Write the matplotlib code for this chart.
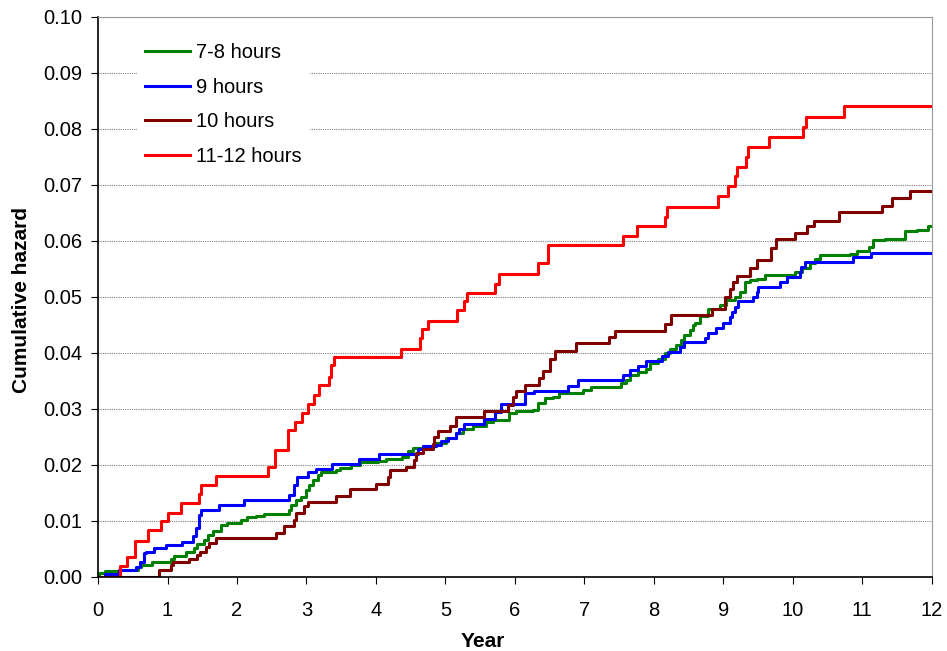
import matplotlib.pyplot as plt

plt.rcParams['font.family'] = ['Liberation Sans', 'DejaVu Sans']

# step times (years) and cumulative hazard after each step
t_78 = [0, 0.02, 0.10, 0.30, 0.57, 0.62, 0.78, 1.05, 1.10, 1.26, 1.38, 1.42, 1.53, 1.58, 1.65, 1.77,
        1.86, 2.06, 2.15, 2.27, 2.39, 2.61, 2.75, 2.78, 2.85, 2.92, 2.99, 3.04, 3.09, 3.16, 3.21,
        3.42, 3.48, 3.64, 3.77, 4.03, 4.14, 4.38, 4.46, 4.53, 4.67, 4.87, 5.01, 5.15, 5.25, 5.39,
        5.59, 5.68, 5.92, 6.02, 6.26, 6.33, 6.43, 6.55, 6.64, 6.98, 7.10, 7.53, 7.60, 7.65, 7.77,
        7.89, 7.94, 8.06, 8.16, 8.23, 8.32, 8.39, 8.44, 8.52, 8.56, 8.59, 8.67, 8.78, 8.95, 9.04,
        9.16, 9.24, 9.31, 9.38, 9.48, 9.60, 10.03, 10.13, 10.24, 10.32, 10.39, 10.82, 10.92,
        11.09, 11.16, 11.33, 11.62, 11.78, 11.95]
v_78 = [0, 0.0007, 0.0011, 0.0012, 0.0017, 0.0021, 0.0027, 0.0033, 0.0037, 0.0045, 0.0051, 0.0059,
        0.0066, 0.0075, 0.0083, 0.0093, 0.0097, 0.0101, 0.0107, 0.0109, 0.0112, 0.0113, 0.0120,
        0.0129, 0.0137, 0.0143, 0.0155, 0.0164, 0.0173, 0.0182, 0.0187, 0.0191, 0.0195, 0.0200,
        0.0205, 0.0208, 0.0211, 0.0215, 0.0225, 0.0231, 0.0234, 0.0239, 0.0248, 0.0257, 0.0264,
        0.0270, 0.0276, 0.0280, 0.0292, 0.0297, 0.0299, 0.0310, 0.0319, 0.0322, 0.0329, 0.0334,
        0.0340, 0.0346, 0.0351, 0.0361, 0.0366, 0.0372, 0.0382, 0.0389, 0.0400, 0.0408, 0.0414,
        0.0423, 0.0432, 0.0441, 0.0450, 0.0454, 0.0466, 0.0478, 0.0486, 0.0495, 0.0500, 0.0509,
        0.0526, 0.0530, 0.0533, 0.0539, 0.0545, 0.0551, 0.0560, 0.0567, 0.0575, 0.0577, 0.0582,
        0.0590, 0.0601, 0.0604, 0.0617, 0.0619, 0.0626]

t_9 = [0, 0.10, 0.30, 0.54, 0.61, 0.66, 0.69, 0.81, 0.98, 1.21, 1.36, 1.41, 1.46, 1.48, 1.74, 2.10,
       2.75, 2.82, 2.87, 3.02, 3.14, 3.37, 3.76, 4.05, 4.60, 4.67, 4.87, 4.94, 5.03, 5.15, 5.20,
       5.27, 5.56, 5.71, 5.80, 6.14, 6.28, 6.76, 6.91, 7.55, 7.65, 7.77, 7.89, 8.11, 8.21, 8.38,
       8.44, 8.73, 8.78, 8.90, 9.00, 9.09, 9.12, 9.16, 9.21, 9.43, 9.48, 9.50, 9.81, 9.91, 10.10,
       10.12, 10.17, 10.87, 11.13]
v_9 = [0, 0.0005, 0.0012, 0.0018, 0.0027, 0.0042, 0.0045, 0.0051, 0.0057, 0.0063, 0.0073, 0.0087,
       0.0111, 0.0120, 0.0129, 0.0138, 0.0146, 0.0164, 0.0178, 0.0187, 0.0193, 0.0202, 0.0210,
       0.0220, 0.0228, 0.0234, 0.0236, 0.0242, 0.0249, 0.0258, 0.0265, 0.0273, 0.0283, 0.0295,
       0.0309, 0.0328, 0.0333, 0.0341, 0.0352, 0.0361, 0.0370, 0.0377, 0.0386, 0.0395, 0.0402,
       0.0411, 0.0419, 0.0427, 0.0436, 0.0445, 0.0454, 0.0465, 0.0474, 0.0482, 0.0492, 0.0500,
       0.0509, 0.0518, 0.0527, 0.0536, 0.0545, 0.0554, 0.0563, 0.0571, 0.0579]

t_10 = [0, 0.88, 1.05, 1.08, 1.31, 1.43, 1.47, 1.55, 1.60, 1.70, 2.56, 2.68, 2.82, 2.85, 2.97, 3.02,
        3.42, 3.62, 4.00, 4.17, 4.20, 4.43, 4.55, 4.58, 4.67, 4.82, 4.84, 4.89, 5.06, 5.15, 5.56,
        5.90, 5.97, 6.02, 6.14, 6.35, 6.40, 6.50, 6.57, 6.88, 7.36, 7.44, 8.16, 8.25, 8.83, 9.02,
        9.09, 9.14, 9.19, 9.38, 9.48, 9.69, 9.76, 10.03, 10.20, 10.30, 10.66, 11.28, 11.43, 11.68]
v_10 = [0, 0.0012, 0.0021, 0.0027, 0.0033, 0.0039, 0.0045, 0.0054, 0.0060, 0.0069, 0.0078, 0.0091,
        0.0102, 0.0114, 0.0126, 0.0134, 0.0145, 0.0157, 0.0166, 0.0178, 0.0191, 0.0197, 0.0209,
        0.0221, 0.0228, 0.0238, 0.0250, 0.0261, 0.0270, 0.0286, 0.0297, 0.0307, 0.0321, 0.0333,
        0.0343, 0.0355, 0.0368, 0.0390, 0.0404, 0.0417, 0.0428, 0.0439, 0.0451, 0.0467, 0.0478,
        0.0500, 0.0515, 0.0527, 0.0538, 0.0551, 0.0566, 0.0587, 0.0603, 0.0615, 0.0626, 0.0636,
        0.0651, 0.0663, 0.0677, 0.0690]

t_1112 = [0, 0.32, 0.42, 0.53, 0.72, 0.90, 1.01, 1.20, 1.45, 1.48, 1.70, 2.44, 2.54, 2.74, 2.84,
          2.94, 3.02, 3.11, 3.18, 3.33, 3.36, 3.39, 4.36, 4.64, 4.66, 4.75, 5.17, 5.27, 5.31, 5.71,
          5.77, 6.33, 6.48, 7.56, 7.76, 8.16, 8.19, 8.92, 9.07, 9.16, 9.19, 9.32, 9.35, 9.65, 10.15,
          10.19, 10.73]
v_1112 = [0, 0.0020, 0.0036, 0.0065, 0.0084, 0.0100, 0.0114, 0.0132, 0.0148, 0.0164, 0.0180,
          0.0197, 0.0227, 0.0262, 0.0277, 0.0293, 0.0309, 0.0325, 0.0343, 0.0358, 0.0379, 0.0393,
          0.0407, 0.0426, 0.0442, 0.0458, 0.0476, 0.0492, 0.0507, 0.0524, 0.0541, 0.0560, 0.0592,
          0.0609, 0.0627, 0.0643, 0.0660, 0.0681, 0.0699, 0.0716, 0.0733, 0.0750, 0.0768, 0.0786,
          0.0803, 0.0821, 0.0841]

series = [('7-8 hours', t_78, v_78, '#008000'),
          ('9 hours', t_9, v_9, '#0000FF'),
          ('10 hours', t_10, v_10, '#800000'),
          ('11-12 hours', t_1112, v_1112, '#FF0000')]

fig = plt.figure(figsize=(9.47, 6.51), dpi=100)
ax = fig.add_axes([0.1035, 0.1137, 0.8805, 0.8602])

for label, t, v, c in series:
    ax.step(t + [12], v + [v[-1]], where='post', color=c, lw=2.2, label=label)

ax.set_xlim(0, 12)
ax.set_ylim(0, 0.10)
ax.set_xticks(range(13))
ax.set_yticks([i / 100 for i in range(11)])
ax.set_yticklabels([f'{i / 100:.2f}' for i in range(11)])
ax.tick_params(labelsize=14.5, direction='out', length=5, color='black')
ax.tick_params(axis='y', pad=6.5)
ax.tick_params(axis='x', pad=12)
ax.yaxis.grid(True, color='#808080', linestyle=(0, (1, 1)), lw=0.8)
ax.set_axisbelow(True)
for s in ['top', 'right']:
    ax.spines[s].set_color('#999999')
for s in ['left', 'bottom']:
    ax.spines[s].set_color('black')
    ax.spines[s].set_linewidth(1.2)

ax.set_xlabel('Year', fontsize=15, fontweight='bold')
ax.set_ylabel('Cumulative hazard', fontsize=15, fontweight='bold')
ax.xaxis.set_label_coords(0.4616, -0.098)
ax.yaxis.set_label_coords(-0.080, 0.495)

leg = ax.legend(loc='upper left', bbox_to_anchor=(0.047, 0.968), fontsize=14.5, frameon=True,
                fancybox=False, edgecolor='none', facecolor='white', framealpha=1,
                handlelength=2.24, handletextpad=0.3, labelspacing=0.78, borderpad=0.4,
                borderaxespad=0)

fig.savefig('out.png', dpi=100)
